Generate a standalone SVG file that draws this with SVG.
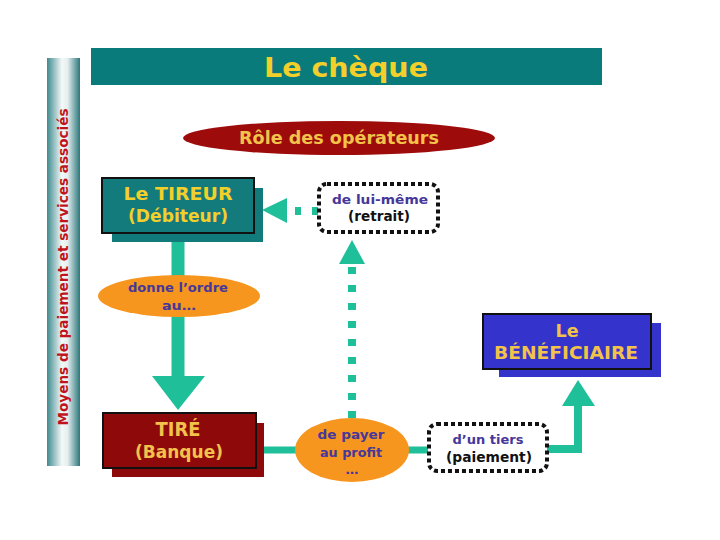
<svg xmlns="http://www.w3.org/2000/svg" width="720" height="540" viewBox="0 0 720 540">
<defs>
<linearGradient id="barGrad" x1="0" y1="0" x2="1" y2="0">
<stop offset="0" stop-color="#3e8a8e"/>
<stop offset="0.45" stop-color="#f4f8f8"/>
<stop offset="0.62" stop-color="#e6efef"/>
<stop offset="1" stop-color="#2c777b"/>
</linearGradient>
</defs>
<style>
text{font-family:"DejaVu Sans","Liberation Sans",Arial,sans-serif;font-weight:bold;text-anchor:middle}
.y{fill:#f2cf2a}
.o{fill:#f2c24a}
.v{fill:#46379a}
.k{fill:#111}
.box{stroke:#111;stroke-width:2}
.dot{fill:#fff;stroke:#111;stroke-width:4;stroke-dasharray:4 3}
.oval{fill:#f7961e}
.con{stroke:#1fbf9a;fill:none}
.head{fill:#1fbf9a}
</style>
<rect width="720" height="540" fill="#fff"/>
<g id="sidebar">
<rect x="47" y="58" width="33" height="408" fill="url(#barGrad)"/>
<text transform="translate(68,267) rotate(-90)" font-size="14" fill="#c0141c" textLength="317" lengthAdjust="spacingAndGlyphs">Moyens de paiement et services associés</text>
</g>
<g id="title">
<rect x="91" y="48" width="511" height="37" fill="#0a7b7b"/>
<text x="346" y="77" font-size="26" class="y" textLength="164" lengthAdjust="spacingAndGlyphs">Le chèque</text>
</g>
<g id="role">
<ellipse cx="339" cy="138" rx="156" ry="17" fill="#9e0b0b"/>
<text x="339" y="144" font-size="18" class="o" textLength="200" lengthAdjust="spacingAndGlyphs">Rôle des opérateurs</text>
</g>
<g id="connectors">
<line x1="178" y1="233" x2="178" y2="278" class="con" stroke-width="13"/>
<line x1="178" y1="316" x2="178" y2="378" class="con" stroke-width="13"/>
<polygon points="152,376 205,376 178,410" class="head"/>
<line x1="318" y1="211" x2="288" y2="211" class="con" stroke-width="8" stroke-dasharray="6 11"/>
<polygon points="262,210 287,198 287,223" class="head"/>
<line x1="352" y1="418" x2="352" y2="266" class="con" stroke-width="8" stroke-dasharray="7 11"/>
<polygon points="352,240 339,264 365,264" class="head"/>
<line x1="264" y1="450" x2="296" y2="450" class="con" stroke-width="7"/>
<line x1="408" y1="450" x2="428" y2="450" class="con" stroke-width="7"/>
<polyline points="547,449 578,449 578,404" class="con" stroke-width="8"/>
<polygon points="578,380 562,406 595,406" class="head"/>
</g>
<g id="tireur">
<rect x="112" y="188" width="151" height="54" fill="#117a7a"/>
<rect x="102" y="178" width="152" height="55" fill="#137b7b" class="box"/>
<text x="178" y="200" font-size="18" class="y" textLength="109" lengthAdjust="spacingAndGlyphs">Le TIREUR</text>
<text x="178" y="222" font-size="17" class="y" textLength="100" lengthAdjust="spacingAndGlyphs">(Débiteur)</text>
</g>
<g id="luimeme">
<rect x="319" y="184" width="119" height="48" rx="8" class="dot"/>
<text x="380" y="204" font-size="13" class="v" textLength="96" lengthAdjust="spacingAndGlyphs">de lui-même</text>
<text x="379" y="221" font-size="14" class="k" textLength="62" lengthAdjust="spacingAndGlyphs">(retrait)</text>
</g>
<g id="ordre">
<ellipse cx="179" cy="296" rx="81" ry="21" class="oval"/>
<text x="178" y="292" font-size="13" class="v" textLength="100" lengthAdjust="spacingAndGlyphs">donne l’ordre</text>
<text x="179" y="310" font-size="13" class="v" textLength="34" lengthAdjust="spacingAndGlyphs">au…</text>
</g>
<g id="tire">
<rect x="112" y="423" width="152" height="54" fill="#8e0a0a"/>
<rect x="103" y="413" width="153" height="55" fill="#8e0a0a" class="box"/>
<text x="178" y="436" font-size="19" class="o" textLength="45" lengthAdjust="spacingAndGlyphs">TIRÉ</text>
<text x="179" y="458" font-size="18" class="o" textLength="88" lengthAdjust="spacingAndGlyphs">(Banque)</text>
</g>
<g id="payer">
<ellipse cx="352" cy="450" rx="57" ry="32" class="oval"/>
<text x="351" y="439" font-size="13" class="v" textLength="67" lengthAdjust="spacingAndGlyphs">de payer</text>
<text x="351" y="457" font-size="13" class="v" textLength="62" lengthAdjust="spacingAndGlyphs">au profit</text>
<text x="352" y="474" font-size="13" class="v">…</text>
</g>
<g id="tiers">
<rect x="429" y="424" width="118" height="47" rx="8" class="dot"/>
<text x="488" y="444" font-size="13" class="v" textLength="71" lengthAdjust="spacingAndGlyphs">d’un tiers</text>
<text x="489" y="462" font-size="14" class="k" textLength="86" lengthAdjust="spacingAndGlyphs">(paiement)</text>
</g>
<g id="beneficiaire">
<rect x="499" y="323" width="162" height="54" fill="#3434cc"/>
<rect x="483" y="314" width="168" height="55" fill="#3434cc" class="box"/>
<text x="567" y="337" font-size="17" class="o" textLength="23" lengthAdjust="spacingAndGlyphs">Le</text>
<text x="566" y="359" font-size="17" class="o" textLength="144" lengthAdjust="spacingAndGlyphs">BÉNÉFICIAIRE</text>
</g>
</svg>
